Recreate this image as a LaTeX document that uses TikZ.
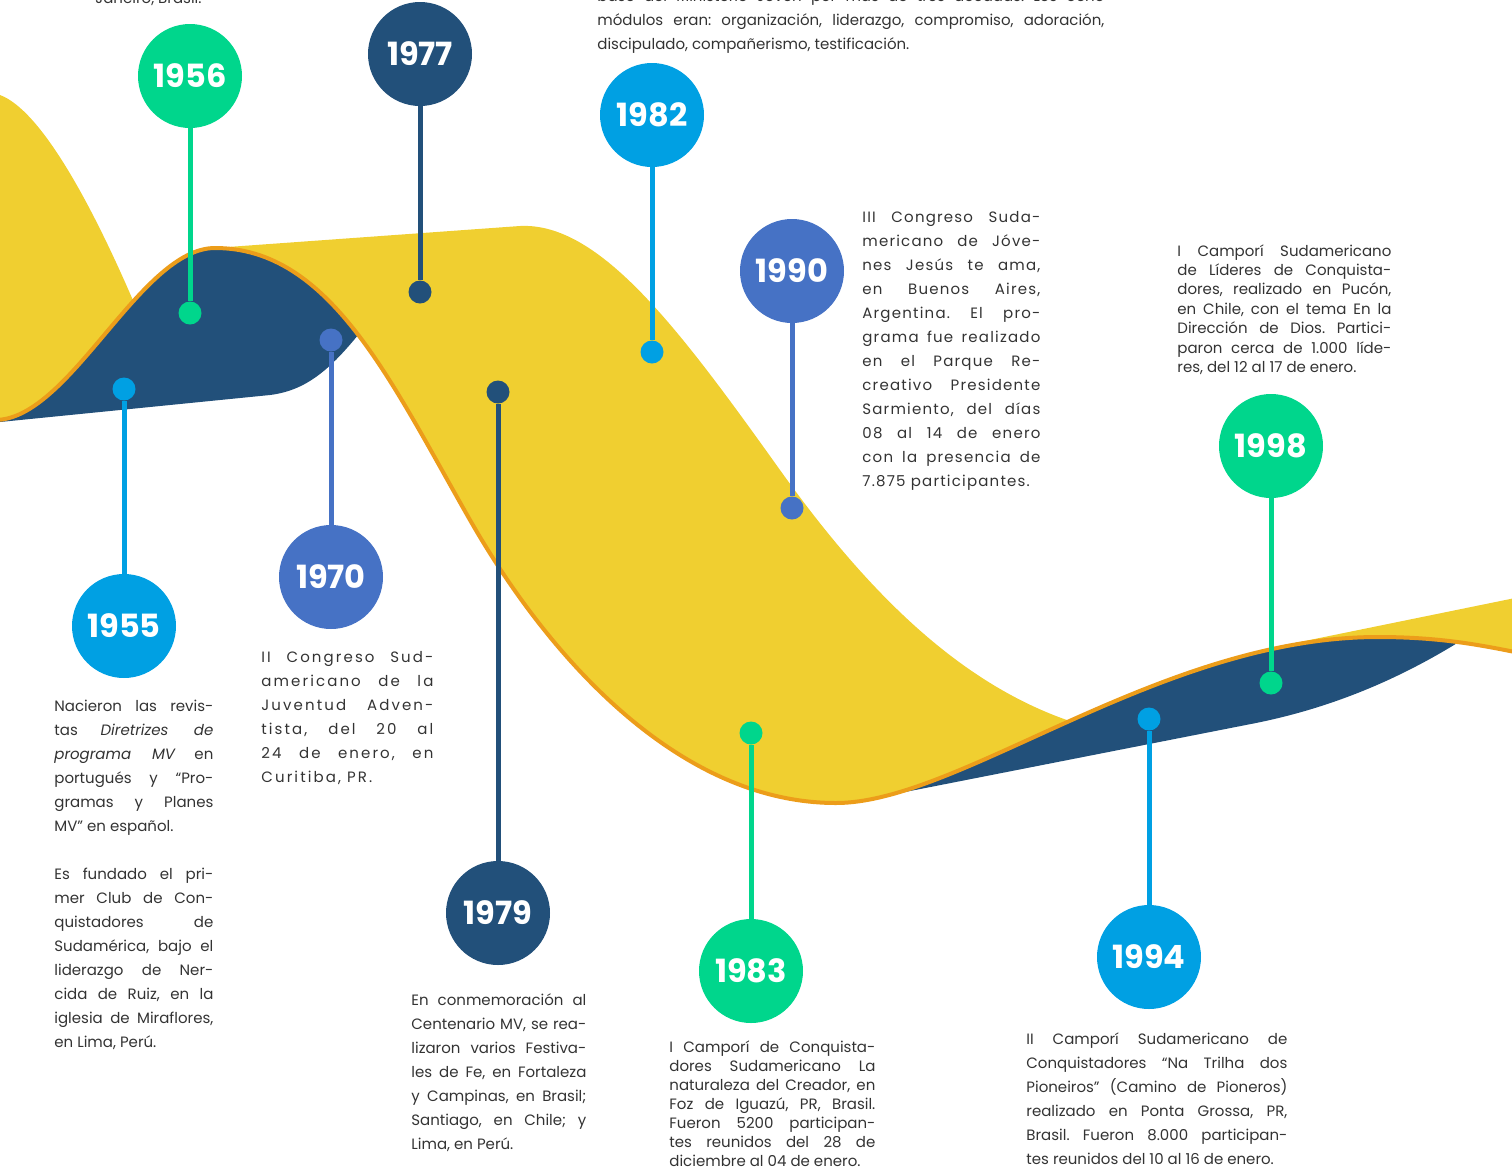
\documentclass[tikz,border=0pt]{standalone}
\usepackage{fontspec}
\setmainfont{Poppins}
\frenchspacing
\definecolor{cgreen}{HTML}{00D68C}
\definecolor{cnavy}{HTML}{22507A}
\definecolor{cblue}{HTML}{00A0E3}
\definecolor{cmid}{HTML}{4672C5}
\definecolor{cyellow}{HTML}{F0CF30}
\definecolor{corange}{HTML}{EC9D1A}
\definecolor{ctext}{HTML}{333333}
\newcommand\Epath{(-5,420) .. controls (70,420) and (140,248) .. (215,248) .. controls (330,248) and (390,380) .. (470,520) .. controls (550,660) and (680,803) .. (836,803) .. controls (960,803) and (1160,637) .. (1378,637) .. controls (1440,637) and (1480,645) .. (1520,653)}
\newcommand\yearfont{\fontsize{16}{16}\selectfont\bfseries}
\newcommand\bodyfont{\fontsize{7.5}{12}\selectfont\frenchspacing}
\newcommand\blk[3]{\vtop{\hsize=#1\relax\baselineskip=#2\relax\lineskip=0pt\lineskiplimit=-20pt #3}}
\newcommand\J[1]{\hbox to \hsize{#1}}
\newcommand\lastl[1]{\hbox{#1}}
\begin{document}
\begin{tikzpicture}[x=0.5pt,y=-0.5pt,
  year/.style={circle, inner sep=0pt, minimum size=52pt, text=white, font=\yearfont},
  dot/.style={circle, inner sep=0pt, minimum size=11.5pt},
  stem/.style={line width=2.5pt},
  txt/.style={anchor=base west, inner sep=0pt, text=ctext, font=\bodyfont}]
\useasboundingbox (0,0) rectangle (1512,1174);
\clip (0,0) rectangle (1512,1174);

% ribbon: parts above the edge curve
\begin{scope}
\clip \Epath -- (1520,-20) -- (-20,-20) -- cycle;
\fill[cyellow] (-20,95) -- (0,95) .. controls (40,110) and (90,200) .. (135,305) -- (160,440) -- (-20,440) -- cycle;
\fill[cyellow] (200,249) -- (520,226) .. controls (600,222) and (680,330) .. (780,470) .. controls (880,610) and (980,700) .. (1100,730) -- (1100,1000) -- (200,1000) -- cycle;
\fill[cyellow] (1290,644) -- (1520,597) -- (1520,720) -- (1290,720) -- cycle;
\end{scope}
% ribbon: parts below the edge curve
\begin{scope}
\clip \Epath -- (1520,1200) -- (-20,1200) -- cycle;
\fill[cnavy] (-20,424) -- (270,395) .. controls (310,390) and (335,365) .. (370,320) -- (370,200) -- (-20,200) -- cycle;
\fill[cnavy] (905,792) -- (1256,723) .. controls (1330,708) and (1400,680) .. (1470,635) -- (1470,560) -- (905,560) -- cycle;
\end{scope}
\draw[corange, line width=2pt] \Epath;

% markers
\node[year, fill=cgreen] (y1956) at (190,76) {1956};
\node[dot, fill=cgreen] (d1956) at (190,313) {};
\draw[stem, cgreen] (y1956.south) -- (d1956.north);

\node[year, fill=cnavy] (y1977) at (420,54) {1977};
\node[dot, fill=cnavy] (d1977) at (420,292) {};
\draw[stem, cnavy] (y1977.south) -- (d1977.north);

\node[year, fill=cblue] (y1982) at (652,115) {1982};
\node[dot, fill=cblue] (d1982) at (652,352) {};
\draw[stem, cblue] (y1982.south) -- (d1982.north);

\node[year, fill=cmid] (y1990) at (792,271) {1990};
\node[dot, fill=cmid] (d1990) at (792,508) {};
\draw[stem, cmid] (y1990.south) -- (d1990.north);

\node[year, fill=cgreen] (y1998) at (1271,446) {1998};
\node[dot, fill=cgreen] (d1998) at (1271,683) {};
\draw[stem, cgreen] (y1998.south) -- (d1998.north);

\node[year, fill=cblue] (y1955) at (124,626) {1955};
\node[dot, fill=cblue] (d1955) at (124,389) {};
\draw[stem, cblue] (y1955.north) -- (d1955.south);

\node[year, fill=cmid] (y1970) at (331,577) {1970};
\node[dot, fill=cmid] (d1970) at (331,340) {};
\draw[stem, cmid] (y1970.north) -- (d1970.south);

\node[year, fill=cnavy] (y1979) at (498,913) {1979};
\node[dot, fill=cnavy] (d1979) at (498,392) {};
\draw[stem, cnavy] (y1979.north) -- (d1979.south);

\node[year, fill=cgreen] (y1983) at (751,971) {1983};
\node[dot, fill=cgreen] (d1983) at (751,733) {};
\draw[stem, cgreen] (y1983.north) -- (d1983.south);

\node[year, fill=cblue] (y1994) at (1149,957) {1994};
\node[dot, fill=cblue] (d1994) at (1149,719) {};
\draw[stem, cblue] (y1994.north) -- (d1994.south);

% texts
\node[txt] (ttop1) at (95,3) {Janeiro, Brasil.};

\node[txt] (ttop2) at (597,1) {\blk{253.5pt}{12pt}{%
\J{base del Ministerio Joven por más de tres décadas. Los ocho}
\J{módulos eran: organización, liderazgo, compromiso, adoración,}
\lastl{discipulado, compañerismo, testificación.}}};

\node[txt] (t1990) at (862,222) {\blk{89pt}{12pt}{\addfontfeature{LetterSpace=8}%
\J{III Congreso Suda-}
\J{mericano de Jóve-}
\J{nes Jesús te ama,}
\J{en Buenos Aires,}
\J{Argentina. El pro-}
\J{grama fue realizado}
\J{en el Parque Re-}
\J{creativo Presidente}
\J{Sarmiento, del días}
\J{08 al 14 de enero}
\J{con la presencia de}
\lastl{7.875 participantes.}}};

\node[txt] (t1998) at (1177,256) {\blk{107pt}{9.7pt}{%
\J{I Camporí Sudamericano}
\J{de Líderes de Conquista-}
\J{dores, realizado en Pucón,}
\J{en Chile, con el tema En la}
\J{Dirección de Dios. Partici-}
\J{paron cerca de 1.000 líde-}
\lastl{res, del 12 al 17 de enero.}}};

\node[txt] (t1955a) at (54,711) {\blk{79.5pt}{12pt}{%
\J{Nacieron las revis-}
\J{tas \textit{Diretrizes de}}
\J{\textit{programa MV} en}
\J{portugués y “Pro-}
\J{gramas y Planes}
\lastl{MV” en español.}}};

\node[txt] (t1955b) at (54,879) {\blk{79.5pt}{12pt}{%
\J{Es fundado el pri-}
\J{mer Club de Con-}
\J{quistadores de}
\J{Sudamérica, bajo el}
\J{liderazgo de Ner-}
\J{cida de Ruiz, en la}
\J{iglesia de Miraflores,}
\lastl{en Lima, Perú.}}};

\node[txt] (t1970) at (261,662) {\blk{86pt}{12pt}{\addfontfeature{LetterSpace=14}%
\J{II Congreso Sud-}
\J{americano de la}
\J{Juventud Adven-}
\J{tista, del 20 al}
\J{24 de enero, en}
\lastl{Curitiba, PR.}}};

\node[txt] (t1979) at (411,1005) {\blk{87.5pt}{12pt}{%
\J{En conmemoración al}
\J{Centenario MV, se rea-}
\J{lizaron varios Festiva-}
\J{les de Fe, en Fortaleza}
\J{y Campinas, en Brasil;}
\J{Santiago, en Chile; y}
\lastl{Lima, en Perú.}}};

\node[txt] (t1983) at (669,1052) {\blk{103pt}{9.5pt}{%
\J{I Camporí de Conquista-}
\J{dores Sudamericano La}
\J{naturaleza del Creador, en}
\J{Foz de Iguazú, PR, Brasil.}
\J{Fueron 5200 participan-}
\J{tes reunidos del 28 de}
\lastl{diciembre al 04 de enero.}}};

\node[txt] (t1994) at (1026,1044) {\blk{130.5pt}{12pt}{%
\J{II Camporí Sudamericano de}
\J{Conquistadores “Na Trilha dos}
\J{Pioneiros” (Camino de Pioneros)}
\J{realizado en Ponta Grossa, PR,}
\J{Brasil. Fueron 8.000 participan-}
\lastl{tes reunidos del 10 al 16 de enero.}}};
\end{tikzpicture}
\end{document}
